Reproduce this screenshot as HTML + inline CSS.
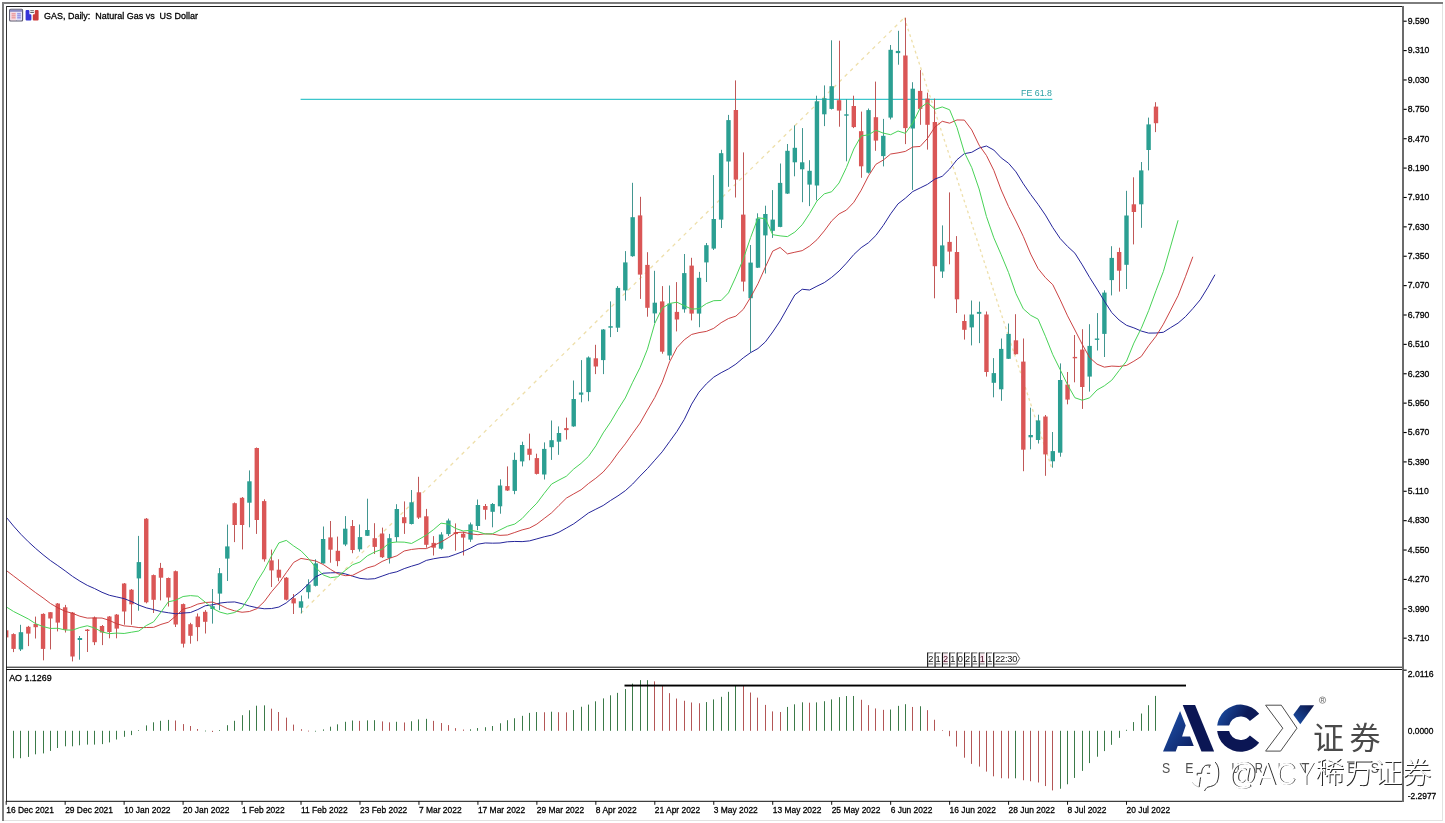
<!DOCTYPE html><html><head><meta charset="utf-8"><title>GAS Daily</title><style>html,body{margin:0;padding:0;background:#fff;width:1445px;height:823px;overflow:hidden}svg{display:block;will-change:transform}</style></head><body>
<svg width="1445" height="823" viewBox="0 0 1445 823" font-family="'Liberation Sans', Arial, sans-serif">
<rect width="1445" height="823" fill="#fff"/>
<defs><clipPath id="main"><rect x="6.5" y="6.5" width="1395.5" height="660"/></clipPath><clipPath id="aoc"><rect x="6.5" y="669.5" width="1395.5" height="131"/></clipPath><linearGradient id="gA" x1="0" y1="0" x2="1" y2="1"><stop offset="0" stop-color="#1f56b0"/><stop offset="1" stop-color="#0c1d5e"/></linearGradient><linearGradient id="gC" x1="0" y1="0" x2="1" y2="0.6"><stop offset="0" stop-color="#1d55ad"/><stop offset="0.6" stop-color="#0c1a58"/></linearGradient></defs>
<rect x="2" y="2" width="2" height="819" fill="#7d7d7d"/>
<rect x="2" y="2" width="1441" height="2" fill="#7d7d7d"/>
<rect x="1442" y="4" width="1" height="817" fill="#e2e2e2"/>
<rect x="4" y="820" width="1439" height="1" fill="#e2e2e2"/>
<g clip-path="url(#main)">
<line x1="300.6" y1="99.3" x2="1052.3" y2="99.3" stroke="#3cc6cc" stroke-width="1.3"/>
<line x1="300.6" y1="613.4" x2="904.3" y2="17.7" stroke="#eedfaa" stroke-width="1.3" stroke-dasharray="3.6,4.2"/>
<line x1="904.3" y1="17.7" x2="1051.6" y2="467.7" stroke="#eedfaa" stroke-width="1.3" stroke-dasharray="2.8,3"/>
<rect x="6" y="628" width="1" height="12" fill="#c05858"/>
<rect x="4" y="630.3" width="4.4" height="7.1" fill="#da5656"/>
<rect x="13" y="633.3" width="1" height="18.8" fill="#c05858"/>
<rect x="11.37" y="634.1" width="4.4" height="14.8" fill="#da5656"/>
<rect x="20" y="624.8" width="1" height="26.2" fill="#429690"/>
<rect x="18.74" y="632.2" width="4.4" height="17.2" fill="#2b9f92"/>
<rect x="28" y="625.9" width="1" height="20.2" fill="#c05858"/>
<rect x="26.11" y="626.8" width="4.4" height="6.8" fill="#da5656"/>
<rect x="35" y="616.6" width="1" height="21.9" fill="#c05858"/>
<rect x="33.48" y="624" width="4.4" height="3.2" fill="#da5656"/>
<rect x="43" y="613.3" width="1" height="47" fill="#c05858"/>
<rect x="40.85" y="613.9" width="4.4" height="35" fill="#da5656"/>
<rect x="50" y="612" width="1" height="37.4" fill="#c05858"/>
<rect x="48.22" y="612.2" width="4.4" height="6.3" fill="#da5656"/>
<rect x="57" y="603" width="1" height="28.4" fill="#c05858"/>
<rect x="55.59" y="603.5" width="4.4" height="19.1" fill="#da5656"/>
<rect x="65" y="604.9" width="1" height="27.6" fill="#c05858"/>
<rect x="62.96" y="607.3" width="4.4" height="22.4" fill="#da5656"/>
<rect x="72" y="612" width="1" height="49.4" fill="#c05858"/>
<rect x="70.33" y="612.6" width="4.4" height="43.9" fill="#da5656"/>
<rect x="79" y="636" width="1" height="23.7" fill="#429690"/>
<rect x="77.7" y="638" width="4.4" height="2" fill="#2b9f92"/>
<rect x="87" y="629" width="1" height="23" fill="#c05858"/>
<rect x="85.07" y="629.6" width="4.4" height="1.4" fill="#da5656"/>
<rect x="94" y="616.5" width="1" height="28.6" fill="#c05858"/>
<rect x="92.44" y="617.5" width="4.4" height="24.7" fill="#da5656"/>
<rect x="102" y="625" width="1" height="20.1" fill="#c05858"/>
<rect x="99.82" y="626" width="4.4" height="6.5" fill="#da5656"/>
<rect x="109" y="616" width="1" height="22.3" fill="#c05858"/>
<rect x="107.19" y="616.5" width="4.4" height="15.5" fill="#da5656"/>
<rect x="116" y="614" width="1" height="24.3" fill="#c05858"/>
<rect x="114.56" y="614.6" width="4.4" height="14" fill="#da5656"/>
<rect x="124" y="583" width="1" height="41.7" fill="#c05858"/>
<rect x="121.93" y="583.5" width="4.4" height="28" fill="#da5656"/>
<rect x="131" y="589" width="1" height="35.7" fill="#c05858"/>
<rect x="129.3" y="589.7" width="4.4" height="14.6" fill="#da5656"/>
<rect x="138" y="535.9" width="1" height="74.8" fill="#429690"/>
<rect x="136.67" y="562.1" width="4.4" height="16.3" fill="#2b9f92"/>
<rect x="146" y="518" width="1" height="85.3" fill="#c05858"/>
<rect x="144.04" y="518.7" width="4.4" height="83.6" fill="#da5656"/>
<rect x="153" y="574.5" width="1" height="38.5" fill="#c05858"/>
<rect x="151.41" y="575.1" width="4.4" height="24.7" fill="#da5656"/>
<rect x="160" y="562.9" width="1" height="37.5" fill="#c05858"/>
<rect x="158.78" y="567.9" width="4.4" height="9.8" fill="#da5656"/>
<rect x="168" y="577.5" width="1" height="29" fill="#c05858"/>
<rect x="166.15" y="578" width="4.4" height="19.5" fill="#da5656"/>
<rect x="175" y="570.5" width="1" height="56.5" fill="#c05858"/>
<rect x="173.52" y="571.2" width="4.4" height="53.3" fill="#da5656"/>
<rect x="183" y="603.5" width="1" height="44" fill="#c05858"/>
<rect x="180.89" y="604.1" width="4.4" height="39.6" fill="#da5656"/>
<rect x="190" y="622.8" width="1" height="20.9" fill="#c05858"/>
<rect x="188.26" y="624.2" width="4.4" height="11.6" fill="#da5656"/>
<rect x="197" y="613.5" width="1" height="27.7" fill="#c05858"/>
<rect x="195.63" y="616.5" width="4.4" height="10.6" fill="#da5656"/>
<rect x="205" y="610.1" width="1" height="23.4" fill="#c05858"/>
<rect x="203" y="611.8" width="4.4" height="10" fill="#da5656"/>
<rect x="212" y="589" width="1" height="34.6" fill="#429690"/>
<rect x="210.37" y="606.2" width="4.4" height="2.8" fill="#2b9f92"/>
<rect x="219" y="568" width="1" height="42.1" fill="#429690"/>
<rect x="217.74" y="573.2" width="4.4" height="20.4" fill="#2b9f92"/>
<rect x="227" y="524.6" width="1" height="56.4" fill="#429690"/>
<rect x="225.11" y="546.4" width="4.4" height="12.2" fill="#2b9f92"/>
<rect x="234" y="502.5" width="1" height="39.6" fill="#c05858"/>
<rect x="232.48" y="503.2" width="4.4" height="21.8" fill="#da5656"/>
<rect x="242" y="497" width="1" height="52.4" fill="#c05858"/>
<rect x="239.85" y="497.8" width="4.4" height="27.2" fill="#da5656"/>
<rect x="249" y="470.4" width="1" height="56.9" fill="#429690"/>
<rect x="247.22" y="481.3" width="4.4" height="21.4" fill="#2b9f92"/>
<rect x="256" y="447.5" width="1" height="86.4" fill="#c05858"/>
<rect x="254.59" y="448" width="4.4" height="72" fill="#da5656"/>
<rect x="264" y="499.3" width="1" height="62.3" fill="#c05858"/>
<rect x="261.96" y="501.1" width="4.4" height="58.2" fill="#da5656"/>
<rect x="271" y="549.6" width="1" height="37.4" fill="#c05858"/>
<rect x="269.33" y="560.4" width="4.4" height="10" fill="#da5656"/>
<rect x="278" y="559.3" width="1" height="21.9" fill="#c05858"/>
<rect x="276.7" y="569.7" width="4.4" height="8" fill="#da5656"/>
<rect x="286" y="577" width="1" height="23.4" fill="#c05858"/>
<rect x="284.08" y="577.7" width="4.4" height="22" fill="#da5656"/>
<rect x="293" y="594" width="1" height="20" fill="#c05858"/>
<rect x="291.45" y="598.3" width="4.4" height="5.1" fill="#da5656"/>
<rect x="301" y="595.5" width="1" height="17.9" fill="#429690"/>
<rect x="298.82" y="601.3" width="4.4" height="6.4" fill="#2b9f92"/>
<rect x="308" y="579.3" width="1" height="19.3" fill="#429690"/>
<rect x="306.19" y="584.4" width="4.4" height="7.8" fill="#2b9f92"/>
<rect x="315" y="559.3" width="1" height="27.2" fill="#429690"/>
<rect x="313.56" y="563.4" width="4.4" height="22.4" fill="#2b9f92"/>
<rect x="323" y="526.5" width="1" height="37.1" fill="#429690"/>
<rect x="320.93" y="539" width="4.4" height="24.4" fill="#2b9f92"/>
<rect x="330" y="521" width="1" height="41.7" fill="#c05858"/>
<rect x="328.3" y="537.4" width="4.4" height="12.3" fill="#da5656"/>
<rect x="337" y="536.6" width="1" height="29.6" fill="#c05858"/>
<rect x="335.67" y="550.8" width="4.4" height="10.3" fill="#da5656"/>
<rect x="345" y="516.1" width="1" height="30" fill="#429690"/>
<rect x="343.04" y="528.7" width="4.4" height="15.8" fill="#2b9f92"/>
<rect x="352" y="520" width="1" height="33.2" fill="#c05858"/>
<rect x="350.41" y="526" width="4.4" height="24" fill="#da5656"/>
<rect x="359" y="524.5" width="1" height="27.1" fill="#429690"/>
<rect x="357.78" y="537.1" width="4.4" height="12.2" fill="#2b9f92"/>
<rect x="367" y="498.7" width="1" height="37.3" fill="#429690"/>
<rect x="365.15" y="530" width="4.4" height="5.8" fill="#2b9f92"/>
<rect x="374" y="523.2" width="1" height="30.8" fill="#c05858"/>
<rect x="372.52" y="538.2" width="4.4" height="8.7" fill="#da5656"/>
<rect x="382" y="527.6" width="1" height="30.4" fill="#c05858"/>
<rect x="379.89" y="533.5" width="4.4" height="23.7" fill="#da5656"/>
<rect x="389" y="533.9" width="1" height="29.6" fill="#429690"/>
<rect x="387.26" y="538.2" width="4.4" height="19.8" fill="#2b9f92"/>
<rect x="396" y="504.2" width="1" height="37.9" fill="#429690"/>
<rect x="394.63" y="509" width="4.4" height="28.1" fill="#2b9f92"/>
<rect x="404" y="501.4" width="1" height="32.5" fill="#c05858"/>
<rect x="402" y="517.2" width="4.4" height="6" fill="#da5656"/>
<rect x="411" y="490" width="1" height="34.5" fill="#429690"/>
<rect x="409.37" y="502.3" width="4.4" height="21.7" fill="#2b9f92"/>
<rect x="418" y="476.8" width="1" height="42.2" fill="#c05858"/>
<rect x="416.74" y="492.3" width="4.4" height="25.3" fill="#da5656"/>
<rect x="426" y="508.9" width="1" height="38.8" fill="#c05858"/>
<rect x="424.11" y="516.3" width="4.4" height="28.5" fill="#da5656"/>
<rect x="433" y="536.1" width="1" height="19.4" fill="#c05858"/>
<rect x="431.48" y="542.9" width="4.4" height="4.8" fill="#da5656"/>
<rect x="441" y="532.2" width="1" height="17.5" fill="#429690"/>
<rect x="438.85" y="534.5" width="4.4" height="14.2" fill="#2b9f92"/>
<rect x="448" y="518.6" width="1" height="17.5" fill="#429690"/>
<rect x="446.22" y="520.5" width="4.4" height="13.6" fill="#2b9f92"/>
<rect x="455" y="523.4" width="1" height="27.3" fill="#c05858"/>
<rect x="453.59" y="532.2" width="4.4" height="1.9" fill="#da5656"/>
<rect x="463" y="531.8" width="1" height="23.7" fill="#c05858"/>
<rect x="460.96" y="533.7" width="4.4" height="3.9" fill="#da5656"/>
<rect x="470" y="522.5" width="1" height="19.4" fill="#429690"/>
<rect x="468.34" y="524.4" width="4.4" height="15.2" fill="#2b9f92"/>
<rect x="477" y="499.5" width="1" height="30.7" fill="#429690"/>
<rect x="475.71" y="505" width="4.4" height="21" fill="#2b9f92"/>
<rect x="485" y="504" width="1" height="15.6" fill="#c05858"/>
<rect x="483.08" y="506" width="4.4" height="3.8" fill="#da5656"/>
<rect x="492" y="503" width="1" height="24.3" fill="#429690"/>
<rect x="490.45" y="504" width="4.4" height="7.8" fill="#2b9f92"/>
<rect x="500" y="479.3" width="1" height="34.4" fill="#429690"/>
<rect x="497.82" y="485.5" width="4.4" height="20.8" fill="#2b9f92"/>
<rect x="507" y="466.4" width="1" height="24.6" fill="#c05858"/>
<rect x="505.19" y="486.1" width="4.4" height="4.4" fill="#da5656"/>
<rect x="514" y="452.6" width="1" height="41.6" fill="#429690"/>
<rect x="512.56" y="459.9" width="4.4" height="31" fill="#2b9f92"/>
<rect x="522" y="441.7" width="1" height="24.7" fill="#429690"/>
<rect x="519.93" y="445" width="4.4" height="16.4" fill="#2b9f92"/>
<rect x="529" y="433.6" width="1" height="26.7" fill="#c05858"/>
<rect x="527.3" y="448.7" width="4.4" height="6.1" fill="#da5656"/>
<rect x="536" y="453.7" width="1" height="20.8" fill="#c05858"/>
<rect x="534.67" y="458.1" width="4.4" height="15.8" fill="#da5656"/>
<rect x="544" y="442.4" width="1" height="37.1" fill="#429690"/>
<rect x="542.04" y="448.9" width="4.4" height="25.6" fill="#2b9f92"/>
<rect x="551" y="420.5" width="1" height="39.4" fill="#429690"/>
<rect x="549.41" y="440.2" width="4.4" height="7" fill="#2b9f92"/>
<rect x="558" y="426.4" width="1" height="28.4" fill="#429690"/>
<rect x="556.78" y="433" width="4.4" height="8.7" fill="#2b9f92"/>
<rect x="566" y="417.6" width="1" height="21.9" fill="#c05858"/>
<rect x="564.15" y="428.1" width="4.4" height="2" fill="#da5656"/>
<rect x="573" y="380.5" width="1" height="46.3" fill="#429690"/>
<rect x="571.52" y="399" width="4.4" height="27.4" fill="#2b9f92"/>
<rect x="581" y="360.1" width="1" height="42.2" fill="#429690"/>
<rect x="578.89" y="392.5" width="4.4" height="2.2" fill="#2b9f92"/>
<rect x="588" y="356.4" width="1" height="44.8" fill="#429690"/>
<rect x="586.26" y="357.5" width="4.4" height="34.6" fill="#2b9f92"/>
<rect x="595" y="344.8" width="1" height="29.3" fill="#c05858"/>
<rect x="593.63" y="358.3" width="4.4" height="8.2" fill="#da5656"/>
<rect x="603" y="329" width="1" height="45.1" fill="#429690"/>
<rect x="601" y="329.5" width="4.4" height="30.6" fill="#2b9f92"/>
<rect x="610" y="301.4" width="1" height="35.7" fill="#429690"/>
<rect x="608.37" y="326.2" width="4.4" height="1.5" fill="#2b9f92"/>
<rect x="617" y="286.1" width="1" height="45.9" fill="#429690"/>
<rect x="615.74" y="287.9" width="4.4" height="39.8" fill="#2b9f92"/>
<rect x="625" y="251.1" width="1" height="49.5" fill="#429690"/>
<rect x="623.11" y="262.4" width="4.4" height="28" fill="#2b9f92"/>
<rect x="632" y="182.8" width="1" height="74" fill="#429690"/>
<rect x="630.48" y="217.2" width="4.4" height="39" fill="#2b9f92"/>
<rect x="640" y="196.8" width="1" height="102.1" fill="#c05858"/>
<rect x="637.85" y="215.4" width="4.4" height="59.2" fill="#da5656"/>
<rect x="647" y="252.2" width="1" height="64.5" fill="#c05858"/>
<rect x="645.22" y="264.9" width="4.4" height="42.9" fill="#da5656"/>
<rect x="654" y="270.8" width="1" height="52.3" fill="#429690"/>
<rect x="652.6" y="302.7" width="4.4" height="10.7" fill="#2b9f92"/>
<rect x="662" y="286.1" width="1" height="67.6" fill="#c05858"/>
<rect x="659.97" y="301.4" width="4.4" height="50.3" fill="#da5656"/>
<rect x="669" y="285.5" width="1" height="74.6" fill="#429690"/>
<rect x="667.34" y="303.5" width="4.4" height="52" fill="#2b9f92"/>
<rect x="676" y="282.1" width="1" height="49.3" fill="#c05858"/>
<rect x="674.71" y="311.9" width="4.4" height="7.6" fill="#da5656"/>
<rect x="684" y="254" width="1" height="58.7" fill="#429690"/>
<rect x="682.08" y="273.1" width="4.4" height="36.2" fill="#2b9f92"/>
<rect x="691" y="257.8" width="1" height="62.6" fill="#c05858"/>
<rect x="689.45" y="265.6" width="4.4" height="48" fill="#da5656"/>
<rect x="699" y="271.9" width="1" height="55.3" fill="#429690"/>
<rect x="696.82" y="277.8" width="4.4" height="35.8" fill="#2b9f92"/>
<rect x="706" y="243" width="1" height="39" fill="#429690"/>
<rect x="704.19" y="245.2" width="4.4" height="17.2" fill="#2b9f92"/>
<rect x="713" y="175.1" width="1" height="74.9" fill="#429690"/>
<rect x="711.56" y="219" width="4.4" height="29.6" fill="#2b9f92"/>
<rect x="721" y="149.8" width="1" height="78.2" fill="#429690"/>
<rect x="718.93" y="153.2" width="4.4" height="66.4" fill="#2b9f92"/>
<rect x="728" y="114.9" width="1" height="71.9" fill="#429690"/>
<rect x="726.3" y="120.1" width="4.4" height="41.4" fill="#2b9f92"/>
<rect x="735" y="80.4" width="1" height="117.1" fill="#c05858"/>
<rect x="733.67" y="110" width="4.4" height="69.6" fill="#da5656"/>
<rect x="743" y="152.4" width="1" height="139" fill="#c05858"/>
<rect x="741.04" y="214.6" width="4.4" height="67" fill="#da5656"/>
<rect x="750" y="245" width="1" height="107.6" fill="#429690"/>
<rect x="748.41" y="262.6" width="4.4" height="35.6" fill="#2b9f92"/>
<rect x="757" y="213.3" width="1" height="54.7" fill="#429690"/>
<rect x="755.78" y="218.5" width="4.4" height="49.2" fill="#2b9f92"/>
<rect x="765" y="205.7" width="1" height="67.8" fill="#429690"/>
<rect x="763.15" y="214" width="4.4" height="21.4" fill="#2b9f92"/>
<rect x="772" y="190.1" width="1" height="47.8" fill="#429690"/>
<rect x="770.52" y="219.6" width="4.4" height="11.2" fill="#2b9f92"/>
<rect x="780" y="163.5" width="1" height="63.7" fill="#429690"/>
<rect x="777.89" y="182.9" width="4.4" height="44" fill="#2b9f92"/>
<rect x="787" y="144" width="1" height="50" fill="#429690"/>
<rect x="785.26" y="150.8" width="4.4" height="42.8" fill="#2b9f92"/>
<rect x="794" y="125.4" width="1" height="50.9" fill="#429690"/>
<rect x="792.63" y="147.8" width="4.4" height="14.5" fill="#2b9f92"/>
<rect x="802" y="128.1" width="1" height="74.1" fill="#429690"/>
<rect x="800" y="162.3" width="4.4" height="7" fill="#2b9f92"/>
<rect x="809" y="160.2" width="1" height="45.9" fill="#429690"/>
<rect x="807.37" y="170.8" width="4.4" height="13.8" fill="#2b9f92"/>
<rect x="816" y="95.7" width="1" height="104.6" fill="#429690"/>
<rect x="814.74" y="101.3" width="4.4" height="84.2" fill="#2b9f92"/>
<rect x="824" y="85.4" width="1" height="40.7" fill="#429690"/>
<rect x="822.11" y="98.2" width="4.4" height="16.1" fill="#2b9f92"/>
<rect x="831" y="40.3" width="1" height="69.2" fill="#429690"/>
<rect x="829.48" y="86.2" width="4.4" height="22.7" fill="#2b9f92"/>
<rect x="839" y="40.7" width="1" height="86" fill="#c05858"/>
<rect x="836.86" y="100.2" width="4.4" height="10.4" fill="#da5656"/>
<rect x="846" y="99.2" width="1" height="62.1" fill="#429690"/>
<rect x="844.23" y="114.3" width="4.4" height="1.4" fill="#2b9f92"/>
<rect x="853" y="95.7" width="1" height="32.4" fill="#c05858"/>
<rect x="851.6" y="106" width="4.4" height="21.1" fill="#da5656"/>
<rect x="861" y="111.6" width="1" height="66.2" fill="#c05858"/>
<rect x="858.97" y="131.2" width="4.4" height="35.1" fill="#da5656"/>
<rect x="868" y="108.5" width="1" height="65" fill="#429690"/>
<rect x="866.34" y="110.1" width="4.4" height="62.6" fill="#2b9f92"/>
<rect x="875" y="81.6" width="1" height="69.2" fill="#c05858"/>
<rect x="873.71" y="117.2" width="4.4" height="23.4" fill="#da5656"/>
<rect x="883" y="118.9" width="1" height="47.5" fill="#429690"/>
<rect x="881.08" y="135.8" width="4.4" height="20.3" fill="#2b9f92"/>
<rect x="890" y="45" width="1" height="74.4" fill="#429690"/>
<rect x="888.45" y="49.8" width="4.4" height="67.8" fill="#2b9f92"/>
<rect x="898" y="30.8" width="1" height="33.9" fill="#429690"/>
<rect x="895.82" y="50.9" width="4.4" height="2.2" fill="#2b9f92"/>
<rect x="905" y="17.7" width="1" height="126.4" fill="#c05858"/>
<rect x="903.19" y="55.5" width="4.4" height="72.6" fill="#da5656"/>
<rect x="912" y="82.2" width="1" height="107.7" fill="#429690"/>
<rect x="910.56" y="88.7" width="4.4" height="39.8" fill="#2b9f92"/>
<rect x="920" y="70.1" width="1" height="54.7" fill="#c05858"/>
<rect x="917.93" y="90.9" width="4.4" height="18" fill="#da5656"/>
<rect x="927" y="92.7" width="1" height="56.9" fill="#c05858"/>
<rect x="925.3" y="98.6" width="4.4" height="26.2" fill="#da5656"/>
<rect x="934" y="98.6" width="1" height="199.7" fill="#c05858"/>
<rect x="932.67" y="122" width="4.4" height="144.2" fill="#da5656"/>
<rect x="942" y="225.4" width="1" height="52.5" fill="#429690"/>
<rect x="940.04" y="245.4" width="4.4" height="26.1" fill="#2b9f92"/>
<rect x="949" y="192.4" width="1" height="71.9" fill="#c05858"/>
<rect x="947.41" y="241.9" width="4.4" height="9.7" fill="#da5656"/>
<rect x="956" y="236.1" width="1" height="76.9" fill="#c05858"/>
<rect x="954.78" y="252" width="4.4" height="47.3" fill="#da5656"/>
<rect x="964" y="314.5" width="1" height="25.1" fill="#c05858"/>
<rect x="962.15" y="321" width="4.4" height="8.8" fill="#da5656"/>
<rect x="971" y="300.5" width="1" height="44.9" fill="#429690"/>
<rect x="969.52" y="314.5" width="4.4" height="12.9" fill="#2b9f92"/>
<rect x="979" y="301.6" width="1" height="41.5" fill="#429690"/>
<rect x="976.89" y="311.9" width="4.4" height="1.9" fill="#2b9f92"/>
<rect x="986" y="311.5" width="1" height="65.1" fill="#c05858"/>
<rect x="984.26" y="314.5" width="4.4" height="57.5" fill="#da5656"/>
<rect x="993" y="358.1" width="1" height="39.2" fill="#429690"/>
<rect x="991.63" y="373.1" width="4.4" height="9.7" fill="#2b9f92"/>
<rect x="1001" y="338.5" width="1" height="62.3" fill="#429690"/>
<rect x="999" y="348.9" width="4.4" height="40.4" fill="#2b9f92"/>
<rect x="1008" y="323.5" width="1" height="35.5" fill="#429690"/>
<rect x="1006.37" y="333.9" width="4.4" height="24.9" fill="#2b9f92"/>
<rect x="1015" y="314.2" width="1" height="40.4" fill="#c05858"/>
<rect x="1013.74" y="340.3" width="4.4" height="13.9" fill="#da5656"/>
<rect x="1023" y="338.5" width="1" height="132.7" fill="#c05858"/>
<rect x="1021.12" y="361.6" width="4.4" height="88.1" fill="#da5656"/>
<rect x="1030" y="407.7" width="1" height="41.6" fill="#429690"/>
<rect x="1028.49" y="435" width="4.4" height="2.3" fill="#2b9f92"/>
<rect x="1038" y="414.7" width="1" height="28.8" fill="#429690"/>
<rect x="1035.86" y="420.4" width="4.4" height="19.6" fill="#2b9f92"/>
<rect x="1045" y="415" width="1" height="60.8" fill="#c05858"/>
<rect x="1043.23" y="416.5" width="4.4" height="37.9" fill="#da5656"/>
<rect x="1052" y="432" width="1" height="35.7" fill="#429690"/>
<rect x="1050.6" y="451.1" width="4.4" height="10.2" fill="#2b9f92"/>
<rect x="1060" y="363.4" width="1" height="93.3" fill="#429690"/>
<rect x="1057.97" y="380" width="4.4" height="72.7" fill="#2b9f92"/>
<rect x="1067" y="372" width="1" height="32.3" fill="#c05858"/>
<rect x="1065.34" y="384.6" width="4.4" height="15" fill="#da5656"/>
<rect x="1074" y="335" width="1" height="47.3" fill="#c05858"/>
<rect x="1072.71" y="356.9" width="4.4" height="1.4" fill="#da5656"/>
<rect x="1082" y="329.2" width="1" height="79.7" fill="#c05858"/>
<rect x="1080.08" y="349.6" width="4.4" height="37.4" fill="#da5656"/>
<rect x="1089" y="324.2" width="1" height="67.4" fill="#429690"/>
<rect x="1087.45" y="345.9" width="4.4" height="30.7" fill="#2b9f92"/>
<rect x="1097" y="313.1" width="1" height="37.4" fill="#429690"/>
<rect x="1094.82" y="338.5" width="4.4" height="1.4" fill="#2b9f92"/>
<rect x="1104" y="290.3" width="1" height="66.7" fill="#429690"/>
<rect x="1102.19" y="292.6" width="4.4" height="41.3" fill="#2b9f92"/>
<rect x="1111" y="246.2" width="1" height="49.2" fill="#429690"/>
<rect x="1109.56" y="257.9" width="4.4" height="22.2" fill="#2b9f92"/>
<rect x="1119" y="247.7" width="1" height="43.9" fill="#c05858"/>
<rect x="1116.93" y="252" width="4.4" height="18.7" fill="#da5656"/>
<rect x="1126" y="190.8" width="1" height="98.2" fill="#429690"/>
<rect x="1124.3" y="215.5" width="4.4" height="49.3" fill="#2b9f92"/>
<rect x="1133" y="177.3" width="1" height="67.1" fill="#c05858"/>
<rect x="1131.67" y="204.3" width="4.4" height="7.7" fill="#da5656"/>
<rect x="1141" y="162" width="1" height="65.8" fill="#429690"/>
<rect x="1139.04" y="170.4" width="4.4" height="33.9" fill="#2b9f92"/>
<rect x="1148" y="117.6" width="1" height="52.8" fill="#429690"/>
<rect x="1146.41" y="124.4" width="4.4" height="25.6" fill="#2b9f92"/>
<rect x="1155" y="102.2" width="1" height="29.9" fill="#c05858"/>
<rect x="1153.78" y="106.6" width="4.4" height="16.6" fill="#da5656"/>
<polyline points="6.2,517.1 13.57,526.12 20.94,534.34 28.31,541.71 35.68,548.46 43.05,554.71 50.42,560.52 57.79,565.6 65.16,570.86 72.53,576.39 79.9,581.12 87.27,585.34 94.64,588.59 102.02,592.3 109.39,595.25 116.76,596.94 124.13,598.61 131.5,601.54 138.87,605.1 146.24,607.83 153.61,609.59 160.98,611.55 168.35,612.75 175.72,613.78 183.09,613.02 190.46,612.54 197.83,609.53 205.2,605.77 212.57,604.84 219.94,603.06 227.31,602.21 234.68,601.94 242.05,603.75 249.42,606.02 256.79,607.66 264.16,608.75 271.53,608.56 278.9,607.06 286.28,602.89 293.65,596.69 301.02,591.04 308.39,583.94 315.76,576.77 323.13,573.21 330.5,572.83 337.87,572.63 345.24,573.87 352.61,576.19 359.98,578.36 367.35,579.17 374.72,578.69 382.09,576.1 389.46,573.47 396.83,571.77 404.2,568.64 411.57,566.18 418.94,564.01 426.31,560.42 433.68,558.75 441.05,557.52 448.42,556.84 455.79,554.25 463.16,551.43 470.54,548.04 477.91,544.18 485.28,542.96 492.65,543.18 500.02,543 507.39,541.8 514.76,541.44 522.13,541.61 529.5,540.88 536.87,538.88 544.24,536.8 551.61,535.13 558.98,532.16 566.35,528.05 573.72,523.84 581.09,518.48 588.46,512.97 595.83,509.21 603.2,505.5 610.57,500.48 617.94,495.87 625.31,490.69 632.68,484 640.05,476.09 647.42,468.61 654.8,460.21 662.17,451.85 669.54,441.65 676.91,431.45 684.28,419.48 691.65,404.12 699.02,392.1 706.39,383.82 713.76,377.14 721.13,372.73 728.5,368.89 735.87,364.11 743.24,357.9 750.61,352.61 757.98,348.53 765.35,341.91 772.72,331.96 780.09,320.95 787.46,307.87 794.83,294.88 802.2,289.26 809.57,290 816.94,286.2 824.31,282.62 831.68,277.34 839.06,271.03 846.43,263.18 853.8,254.54 861.17,247.66 868.54,242.7 875.91,235.42 883.28,225.44 890.65,213.86 898.02,203.85 905.39,198.19 912.76,191.55 920.13,187.95 927.5,184.34 934.87,179.09 942.24,176.29 949.61,169.05 956.98,159.72 964.35,153.66 971.72,152.3 979.09,148.08 986.46,146.01 993.83,150.05 1001.2,157.86 1008.57,163.28 1015.94,171.84 1023.32,183.78 1030.69,194.49 1038.06,204.32 1045.43,215.07 1052.8,227.58 1060.17,238.51 1067.54,246.41 1074.91,253.18 1082.28,264.85 1089.65,277.44 1097.02,289.1 1104.39,301.13 1111.76,312.57 1119.13,320.06 1126.5,325.3 1133.87,327.87 1141.24,331.04 1148.61,333.1 1155.98,333 1163.35,332.28 1170.72,327.55 1178.09,323.1 1185.46,316.7 1192.83,308.56 1200.2,299.81 1207.58,287.83 1214.95,274.7" fill="none" stroke="#25259a" stroke-width="1" stroke-linejoin="round"/>
<polyline points="6.2,570.42 13.57,576.01 20.94,581.61 28.31,587.17 35.68,592.7 43.05,597.86 50.42,603.47 57.79,607.77 65.16,611.3 72.53,613.33 79.9,616.26 87.27,618.07 94.64,617.96 102.02,618.05 109.39,620.38 116.76,623.82 124.13,625.9 131.5,626.51 138.87,627.58 146.24,627.53 153.61,627.36 160.98,624.42 168.35,622.22 175.72,616.11 183.09,609.17 190.46,607.25 197.83,604.05 205.2,602.54 212.57,602.07 219.94,605 227.31,608.53 234.68,610.88 242.05,612.25 249.42,611.5 256.79,608.7 264.16,601.71 271.53,591.78 278.9,583.21 286.28,572.66 293.65,562.42 301.02,558.42 308.39,559.66 315.76,560.98 323.13,564.45 330.5,569.39 337.87,573.77 345.24,575.67 352.61,575.32 359.98,571.54 367.35,567.83 374.72,565.77 382.09,561.44 389.46,558.34 396.83,555.8 404.2,550.99 411.57,549.44 418.94,548.61 426.31,548.62 433.68,545.44 441.05,541.97 448.42,537.63 455.79,532.66 463.16,532.12 470.54,533.83 477.91,534.72 485.28,533.8 492.65,534.2 500.02,535.38 507.39,534.99 514.76,532.47 522.13,529.89 529.5,528.04 536.87,524.1 544.24,518.43 551.61,512.8 558.98,505.45 566.35,498.14 573.72,493.89 581.09,489.77 588.46,483.57 595.83,478.2 603.2,471.99 610.57,463.45 617.94,453.17 625.31,443.87 632.68,433.32 640.05,423.1 647.42,410.12 654.8,397.48 662.17,382.28 669.54,361.97 676.91,347.71 684.28,339.8 691.65,334.44 699.02,332.62 706.39,331.4 713.76,328.32 721.13,322.69 728.5,318.5 735.87,316.13 743.24,309.42 750.61,297.31 757.98,283.76 765.35,267.15 772.72,251.12 780.09,247.47 787.46,253.89 794.83,252.23 802.2,250.65 809.57,246.07 816.94,239.73 824.31,230.89 831.68,220.89 839.06,213.92 846.43,210.07 853.8,202.31 861.17,190.24 868.54,175.82 875.91,164.31 883.28,160.05 890.65,154.03 898.02,152.87 905.39,151.38 912.76,146.99 920.13,146.44 927.5,138.41 934.87,127.08 942.24,121.31 949.61,123.15 956.98,119.94 964.35,120.09 971.72,129.88 979.09,145.11 986.46,155.51 993.83,170.39 1001.2,189.97 1008.57,206.6 1015.94,221.06 1023.32,236.44 1030.69,254.1 1038.06,268.54 1045.43,277.63 1052.8,284.73 1060.17,299.74 1067.54,315.84 1074.91,329.99 1082.28,344.42 1089.65,357.6 1097.02,364.15 1104.39,367.15 1111.76,366.09 1119.13,366.46 1126.5,365.39 1133.87,361.19 1141.24,356.5 1148.61,345.79 1155.98,336.27 1163.35,324.22 1170.72,310.05 1178.09,295.66 1185.46,276.7 1192.83,256.76" fill="none" stroke="#c83a3a" stroke-width="0.95" stroke-linejoin="round"/>
<polyline points="6.2,606.83 13.57,611.49 20.94,615.2 28.31,618.96 35.68,623.71 43.05,626.55 50.42,628.44 57.79,628.26 65.16,629.97 72.53,630.11 79.9,627.53 87.27,625.77 94.64,627.95 102.02,631.93 109.39,633.65 116.76,633.08 124.13,633.47 131.5,632.21 138.87,631 146.24,625.57 153.61,621.82 160.98,612.12 168.35,601.82 175.72,600.21 183.09,596.5 190.46,595.6 197.83,596.23 205.2,602.08 212.57,608.32 219.94,612.12 227.31,614.06 234.68,612.51 242.05,607.82 249.42,596.81 256.79,581.91 264.16,570.17 271.53,555.9 278.9,542.86 286.28,540.38 293.65,545.96 301.02,550.82 308.39,558.4 315.76,567.52 323.13,574.9 330.5,577.71 337.87,576.75 345.24,570.41 352.61,564.7 359.98,562.04 367.35,555.85 374.72,552 382.09,549.21 389.46,542.84 396.83,541.99 404.2,542.15 411.57,543.46 418.94,539.4 426.31,535.05 433.68,529.49 441.05,523.17 448.42,524.2 455.79,528.52 463.16,531 470.54,530.27 477.91,531.63 485.28,534.03 492.65,533.67 500.02,529.9 507.39,526.28 514.76,524.06 522.13,518.54 529.5,510.58 536.87,503.14 544.24,493.32 551.61,484.05 558.98,480.06 566.35,476.24 573.72,469.03 581.09,463.34 588.46,456.38 595.83,445.84 603.2,432.91 610.57,422.09 617.94,409.56 625.31,397.96 632.68,382.22 640.05,367.58 647.42,349.24 654.8,323.35 662.17,308.25 669.54,303.49 676.91,302.18 684.28,305.73 691.65,309.14 699.02,308.66 706.39,303.6 713.76,300.7 721.13,300.47 728.5,292.88 735.87,276.81 743.24,259.23 750.61,237.55 757.98,217.83 765.35,218.65 772.72,234.68 780.09,235.87 787.46,236.62 794.83,232.09 802.2,224.74 809.57,213.6 816.94,201.05 824.31,193.87 831.68,191.72 839.06,182.98 846.43,167.53 853.8,149.01 861.17,135.95 868.54,134.81 875.91,130.23 883.28,133.12 890.65,134.7 898.02,131 905.39,133.33 912.76,123.1 920.13,108.03 927.5,102.61 934.87,109.29 942.24,106.93 949.61,109.77 956.98,127.51 964.35,152.33 971.72,167.54 979.09,188.94 986.46,216.56 993.83,237.84 1001.2,254.74 1008.57,272.6 1015.94,293.62 1023.32,308.83 1030.69,315.31 1038.06,319.13 1045.43,336.27 1052.8,354.72 1060.17,369.6 1067.54,384.76 1074.91,397.78 1082.28,400.23 1089.65,397.81 1097.02,389.98 1104.39,385.79 1111.76,380.22 1119.13,370.53 1126.5,361.16 1133.87,343.08 1141.24,328.4 1148.61,310.7 1155.98,290.73 1163.35,271.56 1170.72,246.05 1178.09,220.27" fill="none" stroke="#48d257" stroke-width="1" stroke-linejoin="round"/>
</g>
<text x="1021.00" y="96.00" font-size="9.8" textLength="30.89" lengthAdjust="spacingAndGlyphs" fill="#2a9fa3" stroke="#2a9fa3" stroke-width="0"  xml:space="preserve">FE 61.8</text>
<g clip-path="url(#aoc)">
<rect x="6" y="730.8" width="1" height="28.7" fill="#3b7a49"/>
<rect x="13" y="730.8" width="1" height="27.4" fill="#3b7a49"/>
<rect x="20" y="730.8" width="1" height="27.4" fill="#3b7a49"/>
<rect x="28" y="730.8" width="1" height="26.1" fill="#3b7a49"/>
<rect x="35" y="730.8" width="1" height="23.5" fill="#3b7a49"/>
<rect x="43" y="730.8" width="1" height="22.6" fill="#3b7a49"/>
<rect x="50" y="730.8" width="1" height="20.1" fill="#3b7a49"/>
<rect x="57" y="730.8" width="1" height="17.2" fill="#3b7a49"/>
<rect x="65" y="730.8" width="1" height="15.5" fill="#3b7a49"/>
<rect x="72" y="730.8" width="1" height="15.5" fill="#3b7a49"/>
<rect x="79" y="730.8" width="1" height="14.5" fill="#3b7a49"/>
<rect x="87" y="730.8" width="1" height="13.8" fill="#3b7a49"/>
<rect x="94" y="730.8" width="1" height="13.8" fill="#3b7a49"/>
<rect x="102" y="730.8" width="1" height="13.3" fill="#3b7a49"/>
<rect x="109" y="730.8" width="1" height="11.6" fill="#3b7a49"/>
<rect x="116" y="730.8" width="1" height="8.7" fill="#3b7a49"/>
<rect x="124" y="730.8" width="1" height="6" fill="#3b7a49"/>
<rect x="131" y="730.8" width="1" height="4.3" fill="#3b7a49"/>
<rect x="138" y="730.1" width="1" height="0.7" fill="#3b7a49"/>
<rect x="146" y="725.4" width="1" height="5.4" fill="#3b7a49"/>
<rect x="153" y="722.3" width="1" height="8.5" fill="#3b7a49"/>
<rect x="160" y="720.8" width="1" height="10" fill="#3b7a49"/>
<rect x="168" y="719.9" width="1" height="10.9" fill="#3b7a49"/>
<rect x="175" y="720.5" width="1" height="10.3" fill="#b35656"/>
<rect x="183" y="724.1" width="1" height="6.7" fill="#b35656"/>
<rect x="190" y="726" width="1" height="4.8" fill="#b35656"/>
<rect x="197" y="729" width="1" height="1.8" fill="#b35656"/>
<rect x="205" y="730.6" width="1" height="0.8" fill="#3b7a49"/>
<rect x="212" y="730.8" width="1" height="1.2" fill="#b35656"/>
<rect x="219" y="730" width="1" height="0.8" fill="#3b7a49"/>
<rect x="227" y="725.2" width="1" height="5.6" fill="#3b7a49"/>
<rect x="234" y="720.8" width="1" height="10" fill="#3b7a49"/>
<rect x="242" y="715.2" width="1" height="15.6" fill="#3b7a49"/>
<rect x="249" y="710.25" width="1" height="20.55" fill="#3b7a49"/>
<rect x="256" y="705.7" width="1" height="25.1" fill="#3b7a49"/>
<rect x="264" y="705.35" width="1" height="25.45" fill="#3b7a49"/>
<rect x="271" y="708.67" width="1" height="22.13" fill="#b35656"/>
<rect x="278" y="712.01" width="1" height="18.79" fill="#b35656"/>
<rect x="286" y="717.64" width="1" height="13.16" fill="#b35656"/>
<rect x="293" y="724.6" width="1" height="6.2" fill="#b35656"/>
<rect x="301" y="729.19" width="1" height="1.61" fill="#b35656"/>
<rect x="308" y="730.66" width="1" height="0.8" fill="#b35656"/>
<rect x="315" y="730.8" width="1" height="0.8" fill="#3b7a49"/>
<rect x="323" y="729.43" width="1" height="1.37" fill="#3b7a49"/>
<rect x="330" y="726.69" width="1" height="4.11" fill="#3b7a49"/>
<rect x="337" y="724.33" width="1" height="6.47" fill="#3b7a49"/>
<rect x="345" y="721.79" width="1" height="9.01" fill="#3b7a49"/>
<rect x="352" y="720.5" width="1" height="10.3" fill="#3b7a49"/>
<rect x="359" y="720.86" width="1" height="9.94" fill="#b35656"/>
<rect x="367" y="720.36" width="1" height="10.44" fill="#3b7a49"/>
<rect x="374" y="720.17" width="1" height="10.63" fill="#3b7a49"/>
<rect x="382" y="721.41" width="1" height="9.39" fill="#b35656"/>
<rect x="389" y="722.34" width="1" height="8.46" fill="#b35656"/>
<rect x="396" y="721.79" width="1" height="9.01" fill="#3b7a49"/>
<rect x="404" y="722.46" width="1" height="8.34" fill="#b35656"/>
<rect x="411" y="721.26" width="1" height="9.54" fill="#3b7a49"/>
<rect x="418" y="719.43" width="1" height="11.37" fill="#3b7a49"/>
<rect x="426" y="718.84" width="1" height="11.96" fill="#3b7a49"/>
<rect x="433" y="720.86" width="1" height="9.94" fill="#b35656"/>
<rect x="441" y="723.04" width="1" height="7.76" fill="#b35656"/>
<rect x="448" y="725.09" width="1" height="5.71" fill="#b35656"/>
<rect x="455" y="728.13" width="1" height="2.67" fill="#b35656"/>
<rect x="463" y="729.58" width="1" height="1.22" fill="#b35656"/>
<rect x="470" y="729.27" width="1" height="1.53" fill="#3b7a49"/>
<rect x="477" y="728.06" width="1" height="2.74" fill="#3b7a49"/>
<rect x="485" y="727.24" width="1" height="3.56" fill="#3b7a49"/>
<rect x="492" y="726.01" width="1" height="4.79" fill="#3b7a49"/>
<rect x="500" y="723.26" width="1" height="7.54" fill="#3b7a49"/>
<rect x="507" y="720.21" width="1" height="10.59" fill="#3b7a49"/>
<rect x="514" y="718.26" width="1" height="12.54" fill="#3b7a49"/>
<rect x="522" y="715.84" width="1" height="14.96" fill="#3b7a49"/>
<rect x="529" y="712.89" width="1" height="17.91" fill="#3b7a49"/>
<rect x="536" y="712.06" width="1" height="18.74" fill="#3b7a49"/>
<rect x="544" y="712.26" width="1" height="18.54" fill="#b35656"/>
<rect x="551" y="711.72" width="1" height="19.08" fill="#3b7a49"/>
<rect x="558" y="712.22" width="1" height="18.58" fill="#b35656"/>
<rect x="566" y="712.38" width="1" height="18.42" fill="#b35656"/>
<rect x="573" y="710.05" width="1" height="20.75" fill="#3b7a49"/>
<rect x="581" y="706.74" width="1" height="24.06" fill="#3b7a49"/>
<rect x="588" y="704.62" width="1" height="26.18" fill="#3b7a49"/>
<rect x="595" y="701.32" width="1" height="29.48" fill="#3b7a49"/>
<rect x="603" y="698.39" width="1" height="32.41" fill="#3b7a49"/>
<rect x="610" y="695.31" width="1" height="35.49" fill="#3b7a49"/>
<rect x="617" y="692.86" width="1" height="37.94" fill="#3b7a49"/>
<rect x="625" y="689.07" width="1" height="41.73" fill="#3b7a49"/>
<rect x="632" y="683.64" width="1" height="47.16" fill="#3b7a49"/>
<rect x="640" y="680.13" width="1" height="50.67" fill="#3b7a49"/>
<rect x="647" y="680.15" width="1" height="50.65" fill="#3b7a49"/>
<rect x="654" y="681.35" width="1" height="49.45" fill="#b35656"/>
<rect x="662" y="685.57" width="1" height="45.23" fill="#b35656"/>
<rect x="669" y="693.16" width="1" height="37.64" fill="#b35656"/>
<rect x="676" y="698.55" width="1" height="32.25" fill="#b35656"/>
<rect x="684" y="700.76" width="1" height="30.04" fill="#b35656"/>
<rect x="691" y="702.48" width="1" height="28.32" fill="#b35656"/>
<rect x="699" y="703.26" width="1" height="27.54" fill="#b35656"/>
<rect x="706" y="702.08" width="1" height="28.72" fill="#3b7a49"/>
<rect x="713" y="699.4" width="1" height="31.4" fill="#3b7a49"/>
<rect x="721" y="696.81" width="1" height="33.99" fill="#3b7a49"/>
<rect x="728" y="691.82" width="1" height="38.98" fill="#3b7a49"/>
<rect x="735" y="685.58" width="1" height="45.22" fill="#3b7a49"/>
<rect x="743" y="685.73" width="1" height="45.07" fill="#b35656"/>
<rect x="750" y="692.53" width="1" height="38.27" fill="#b35656"/>
<rect x="757" y="697.64" width="1" height="33.16" fill="#b35656"/>
<rect x="765" y="704.9" width="1" height="25.9" fill="#b35656"/>
<rect x="772" y="711.4" width="1" height="19.4" fill="#b35656"/>
<rect x="780" y="712.02" width="1" height="18.78" fill="#b35656"/>
<rect x="787" y="706.93" width="1" height="23.87" fill="#3b7a49"/>
<rect x="794" y="704.32" width="1" height="26.48" fill="#3b7a49"/>
<rect x="802" y="702.32" width="1" height="28.48" fill="#3b7a49"/>
<rect x="809" y="702.73" width="1" height="28.07" fill="#b35656"/>
<rect x="816" y="702.37" width="1" height="28.43" fill="#3b7a49"/>
<rect x="824" y="701.23" width="1" height="29.57" fill="#3b7a49"/>
<rect x="831" y="699.4" width="1" height="31.4" fill="#3b7a49"/>
<rect x="839" y="697.16" width="1" height="33.64" fill="#3b7a49"/>
<rect x="846" y="696.03" width="1" height="34.77" fill="#3b7a49"/>
<rect x="853" y="695.98" width="1" height="34.82" fill="#3b7a49"/>
<rect x="861" y="699.79" width="1" height="31.01" fill="#b35656"/>
<rect x="868" y="705.14" width="1" height="25.66" fill="#b35656"/>
<rect x="875" y="708.44" width="1" height="22.36" fill="#b35656"/>
<rect x="883" y="709.84" width="1" height="20.96" fill="#b35656"/>
<rect x="890" y="709.53" width="1" height="21.27" fill="#3b7a49"/>
<rect x="898" y="705.86" width="1" height="24.94" fill="#3b7a49"/>
<rect x="905" y="704.19" width="1" height="26.61" fill="#3b7a49"/>
<rect x="912" y="706.96" width="1" height="23.84" fill="#b35656"/>
<rect x="920" y="706.25" width="1" height="24.55" fill="#3b7a49"/>
<rect x="927" y="710.15" width="1" height="20.65" fill="#b35656"/>
<rect x="934" y="719.77" width="1" height="11.03" fill="#b35656"/>
<rect x="942" y="730.16" width="1" height="0.64" fill="#b35656"/>
<rect x="949" y="730.8" width="1" height="5.42" fill="#b35656"/>
<rect x="956" y="730.8" width="1" height="15.75" fill="#b35656"/>
<rect x="964" y="730.8" width="1" height="26.89" fill="#b35656"/>
<rect x="971" y="730.8" width="1" height="33.07" fill="#b35656"/>
<rect x="979" y="730.8" width="1" height="35.75" fill="#b35656"/>
<rect x="986" y="730.8" width="1" height="40.79" fill="#b35656"/>
<rect x="993" y="730.8" width="1" height="45.52" fill="#b35656"/>
<rect x="1001" y="730.8" width="1" height="47.42" fill="#b35656"/>
<rect x="1008" y="730.8" width="1" height="47.63" fill="#b35656"/>
<rect x="1015" y="730.8" width="1" height="47.51" fill="#3b7a49"/>
<rect x="1023" y="730.8" width="1" height="49.44" fill="#b35656"/>
<rect x="1030" y="730.8" width="1" height="50.42" fill="#b35656"/>
<rect x="1038" y="730.8" width="1" height="51.67" fill="#b35656"/>
<rect x="1045" y="730.8" width="1" height="55.25" fill="#b35656"/>
<rect x="1052" y="730.8" width="1" height="59.59" fill="#b35656"/>
<rect x="1060" y="730.8" width="1" height="57.93" fill="#3b7a49"/>
<rect x="1067" y="730.8" width="1" height="53.47" fill="#3b7a49"/>
<rect x="1074" y="730.8" width="1" height="47.12" fill="#3b7a49"/>
<rect x="1082" y="730.8" width="1" height="40.07" fill="#3b7a49"/>
<rect x="1089" y="730.8" width="1" height="32.28" fill="#3b7a49"/>
<rect x="1097" y="730.8" width="1" height="25.92" fill="#3b7a49"/>
<rect x="1104" y="730.8" width="1" height="20.28" fill="#3b7a49"/>
<rect x="1111" y="730.8" width="1" height="14.01" fill="#3b7a49"/>
<rect x="1119" y="730.8" width="1" height="7.04" fill="#3b7a49"/>
<rect x="1126" y="729.81" width="1" height="0.99" fill="#3b7a49"/>
<rect x="1133" y="722.09" width="1" height="8.71" fill="#3b7a49"/>
<rect x="1141" y="713.52" width="1" height="17.28" fill="#3b7a49"/>
<rect x="1148" y="705.21" width="1" height="25.59" fill="#3b7a49"/>
<rect x="1155" y="695.91" width="1" height="34.89" fill="#3b7a49"/>
</g>
<rect x="624.5" y="684.6" width="561.5" height="1.9" fill="#000"/>
<text x="9.20" y="681.30" font-size="9.8" textLength="42.4" lengthAdjust="spacingAndGlyphs" fill="#000" stroke="#000" stroke-width="0.3"  xml:space="preserve">AO 1.1269</text>
<rect x="6" y="6" width="1397" height="1" fill="#1a1a1a"/>
<rect x="6" y="6" width="1" height="795" fill="#333"/>
<rect x="6" y="666.7" width="1397" height="1" fill="#111"/>
<rect x="6" y="669" width="1397" height="1" fill="#111"/>
<rect x="6" y="800.8" width="1397" height="1" fill="#111"/>
<rect x="1402" y="6" width="2" height="796" fill="#6b6b6b"/>
<rect x="1403.5" y="20.65" width="3.2" height="1.1" fill="#000"/>
<text x="1407.70" y="24.00" font-size="9.8" textLength="21.7" lengthAdjust="spacingAndGlyphs" fill="#000" stroke="#000" stroke-width="0.3"  xml:space="preserve">9.590</text>
<rect x="1403.5" y="50.03" width="3.2" height="1.1" fill="#000"/>
<text x="1407.70" y="53.38" font-size="9.8" textLength="21.7" lengthAdjust="spacingAndGlyphs" fill="#000" stroke="#000" stroke-width="0.3"  xml:space="preserve">9.310</text>
<rect x="1403.5" y="79.41" width="3.2" height="1.1" fill="#000"/>
<text x="1407.70" y="82.76" font-size="9.8" textLength="21.7" lengthAdjust="spacingAndGlyphs" fill="#000" stroke="#000" stroke-width="0.3"  xml:space="preserve">9.030</text>
<rect x="1403.5" y="108.79" width="3.2" height="1.1" fill="#000"/>
<text x="1407.70" y="112.14" font-size="9.8" textLength="21.7" lengthAdjust="spacingAndGlyphs" fill="#000" stroke="#000" stroke-width="0.3"  xml:space="preserve">8.750</text>
<rect x="1403.5" y="138.17" width="3.2" height="1.1" fill="#000"/>
<text x="1407.70" y="141.52" font-size="9.8" textLength="21.7" lengthAdjust="spacingAndGlyphs" fill="#000" stroke="#000" stroke-width="0.3"  xml:space="preserve">8.470</text>
<rect x="1403.5" y="167.55" width="3.2" height="1.1" fill="#000"/>
<text x="1407.70" y="170.90" font-size="9.8" textLength="21.7" lengthAdjust="spacingAndGlyphs" fill="#000" stroke="#000" stroke-width="0.3"  xml:space="preserve">8.190</text>
<rect x="1403.5" y="196.93" width="3.2" height="1.1" fill="#000"/>
<text x="1407.70" y="200.28" font-size="9.8" textLength="21.7" lengthAdjust="spacingAndGlyphs" fill="#000" stroke="#000" stroke-width="0.3"  xml:space="preserve">7.910</text>
<rect x="1403.5" y="226.31" width="3.2" height="1.1" fill="#000"/>
<text x="1407.70" y="229.66" font-size="9.8" textLength="21.7" lengthAdjust="spacingAndGlyphs" fill="#000" stroke="#000" stroke-width="0.3"  xml:space="preserve">7.630</text>
<rect x="1403.5" y="255.69" width="3.2" height="1.1" fill="#000"/>
<text x="1407.70" y="259.04" font-size="9.8" textLength="21.7" lengthAdjust="spacingAndGlyphs" fill="#000" stroke="#000" stroke-width="0.3"  xml:space="preserve">7.350</text>
<rect x="1403.5" y="285.07" width="3.2" height="1.1" fill="#000"/>
<text x="1407.70" y="288.42" font-size="9.8" textLength="21.7" lengthAdjust="spacingAndGlyphs" fill="#000" stroke="#000" stroke-width="0.3"  xml:space="preserve">7.070</text>
<rect x="1403.5" y="314.45" width="3.2" height="1.1" fill="#000"/>
<text x="1407.70" y="317.80" font-size="9.8" textLength="21.7" lengthAdjust="spacingAndGlyphs" fill="#000" stroke="#000" stroke-width="0.3"  xml:space="preserve">6.790</text>
<rect x="1403.5" y="343.83" width="3.2" height="1.1" fill="#000"/>
<text x="1407.70" y="347.18" font-size="9.8" textLength="21.7" lengthAdjust="spacingAndGlyphs" fill="#000" stroke="#000" stroke-width="0.3"  xml:space="preserve">6.510</text>
<rect x="1403.5" y="373.21" width="3.2" height="1.1" fill="#000"/>
<text x="1407.70" y="376.56" font-size="9.8" textLength="21.7" lengthAdjust="spacingAndGlyphs" fill="#000" stroke="#000" stroke-width="0.3"  xml:space="preserve">6.230</text>
<rect x="1403.5" y="402.59" width="3.2" height="1.1" fill="#000"/>
<text x="1407.70" y="405.94" font-size="9.8" textLength="21.7" lengthAdjust="spacingAndGlyphs" fill="#000" stroke="#000" stroke-width="0.3"  xml:space="preserve">5.950</text>
<rect x="1403.5" y="431.97" width="3.2" height="1.1" fill="#000"/>
<text x="1407.70" y="435.32" font-size="9.8" textLength="21.7" lengthAdjust="spacingAndGlyphs" fill="#000" stroke="#000" stroke-width="0.3"  xml:space="preserve">5.670</text>
<rect x="1403.5" y="461.35" width="3.2" height="1.1" fill="#000"/>
<text x="1407.70" y="464.70" font-size="9.8" textLength="21.7" lengthAdjust="spacingAndGlyphs" fill="#000" stroke="#000" stroke-width="0.3"  xml:space="preserve">5.390</text>
<rect x="1403.5" y="490.73" width="3.2" height="1.1" fill="#000"/>
<text x="1407.70" y="494.08" font-size="9.8" textLength="21.06" lengthAdjust="spacingAndGlyphs" fill="#000" stroke="#000" stroke-width="0.3"  xml:space="preserve">5.110</text>
<rect x="1403.5" y="520.11" width="3.2" height="1.1" fill="#000"/>
<text x="1407.70" y="523.46" font-size="9.8" textLength="21.7" lengthAdjust="spacingAndGlyphs" fill="#000" stroke="#000" stroke-width="0.3"  xml:space="preserve">4.830</text>
<rect x="1403.5" y="549.49" width="3.2" height="1.1" fill="#000"/>
<text x="1407.70" y="552.84" font-size="9.8" textLength="21.7" lengthAdjust="spacingAndGlyphs" fill="#000" stroke="#000" stroke-width="0.3"  xml:space="preserve">4.550</text>
<rect x="1403.5" y="578.87" width="3.2" height="1.1" fill="#000"/>
<text x="1407.70" y="582.22" font-size="9.8" textLength="21.7" lengthAdjust="spacingAndGlyphs" fill="#000" stroke="#000" stroke-width="0.3"  xml:space="preserve">4.270</text>
<rect x="1403.5" y="608.25" width="3.2" height="1.1" fill="#000"/>
<text x="1407.70" y="611.60" font-size="9.8" textLength="21.7" lengthAdjust="spacingAndGlyphs" fill="#000" stroke="#000" stroke-width="0.3"  xml:space="preserve">3.990</text>
<rect x="1403.5" y="637.63" width="3.2" height="1.1" fill="#000"/>
<text x="1407.70" y="640.98" font-size="9.8" textLength="21.7" lengthAdjust="spacingAndGlyphs" fill="#000" stroke="#000" stroke-width="0.3"  xml:space="preserve">3.710</text>
<rect x="1403.5" y="669.6" width="3.2" height="1.1" fill="#000"/>
<text x="1407.70" y="677.30" font-size="9.8" textLength="25.88" lengthAdjust="spacingAndGlyphs" fill="#000" stroke="#000" stroke-width="0.3"  xml:space="preserve">2.0116</text>
<text x="1407.70" y="733.80" font-size="9.8" textLength="25.78" lengthAdjust="spacingAndGlyphs" fill="#000" stroke="#000" stroke-width="0.3"  xml:space="preserve">0.0000</text>
<text x="1407.70" y="799.00" font-size="9.8" textLength="28.58" lengthAdjust="spacingAndGlyphs" fill="#000" stroke="#000" stroke-width="0.3"  xml:space="preserve">-2.2977</text>
<rect x="5.7" y="801" width="1" height="3.8" fill="#111"/>
<text x="6.20" y="812.70" font-size="9.8" textLength="47.79" lengthAdjust="spacingAndGlyphs" fill="#000" stroke="#000" stroke-width="0.3"  xml:space="preserve">16 Dec 2021</text>
<rect x="64.66" y="801" width="1" height="3.8" fill="#111"/>
<text x="65.16" y="812.70" font-size="9.8" textLength="47.79" lengthAdjust="spacingAndGlyphs" fill="#000" stroke="#000" stroke-width="0.3"  xml:space="preserve">29 Dec 2021</text>
<rect x="123.63" y="801" width="1" height="3.8" fill="#111"/>
<text x="124.13" y="812.70" font-size="9.8" textLength="46.39" lengthAdjust="spacingAndGlyphs" fill="#000" stroke="#000" stroke-width="0.3"  xml:space="preserve">10 Jan 2022</text>
<rect x="182.59" y="801" width="1" height="3.8" fill="#111"/>
<text x="183.09" y="812.70" font-size="9.8" textLength="46.39" lengthAdjust="spacingAndGlyphs" fill="#000" stroke="#000" stroke-width="0.3"  xml:space="preserve">20 Jan 2022</text>
<rect x="241.55" y="801" width="1" height="3.8" fill="#111"/>
<text x="242.05" y="812.70" font-size="9.8" textLength="42.64" lengthAdjust="spacingAndGlyphs" fill="#000" stroke="#000" stroke-width="0.3"  xml:space="preserve">1 Feb 2022</text>
<rect x="300.52" y="801" width="1" height="3.8" fill="#111"/>
<text x="301.02" y="812.70" font-size="9.8" textLength="46.7" lengthAdjust="spacingAndGlyphs" fill="#000" stroke="#000" stroke-width="0.3"  xml:space="preserve">11 Feb 2022</text>
<rect x="359.48" y="801" width="1" height="3.8" fill="#111"/>
<text x="359.98" y="812.70" font-size="9.8" textLength="47.32" lengthAdjust="spacingAndGlyphs" fill="#000" stroke="#000" stroke-width="0.3"  xml:space="preserve">23 Feb 2022</text>
<rect x="418.44" y="801" width="1" height="3.8" fill="#111"/>
<text x="418.94" y="812.70" font-size="9.8" textLength="42.63" lengthAdjust="spacingAndGlyphs" fill="#000" stroke="#000" stroke-width="0.3"  xml:space="preserve">7 Mar 2022</text>
<rect x="477.41" y="801" width="1" height="3.8" fill="#111"/>
<text x="477.91" y="812.70" font-size="9.8" textLength="47.32" lengthAdjust="spacingAndGlyphs" fill="#000" stroke="#000" stroke-width="0.3"  xml:space="preserve">17 Mar 2022</text>
<rect x="536.37" y="801" width="1" height="3.8" fill="#111"/>
<text x="536.87" y="812.70" font-size="9.8" textLength="47.32" lengthAdjust="spacingAndGlyphs" fill="#000" stroke="#000" stroke-width="0.3"  xml:space="preserve">29 Mar 2022</text>
<rect x="595.33" y="801" width="1" height="3.8" fill="#111"/>
<text x="595.83" y="812.70" font-size="9.8" textLength="40.77" lengthAdjust="spacingAndGlyphs" fill="#000" stroke="#000" stroke-width="0.3"  xml:space="preserve">8 Apr 2022</text>
<rect x="654.3" y="801" width="1" height="3.8" fill="#111"/>
<text x="654.80" y="812.70" font-size="9.8" textLength="45.45" lengthAdjust="spacingAndGlyphs" fill="#000" stroke="#000" stroke-width="0.3"  xml:space="preserve">21 Apr 2022</text>
<rect x="713.26" y="801" width="1" height="3.8" fill="#111"/>
<text x="713.76" y="812.70" font-size="9.8" textLength="44.04" lengthAdjust="spacingAndGlyphs" fill="#000" stroke="#000" stroke-width="0.3"  xml:space="preserve">3 May 2022</text>
<rect x="772.22" y="801" width="1" height="3.8" fill="#111"/>
<text x="772.72" y="812.70" font-size="9.8" textLength="48.72" lengthAdjust="spacingAndGlyphs" fill="#000" stroke="#000" stroke-width="0.3"  xml:space="preserve">13 May 2022</text>
<rect x="831.18" y="801" width="1" height="3.8" fill="#111"/>
<text x="831.68" y="812.70" font-size="9.8" textLength="48.72" lengthAdjust="spacingAndGlyphs" fill="#000" stroke="#000" stroke-width="0.3"  xml:space="preserve">25 May 2022</text>
<rect x="890.15" y="801" width="1" height="3.8" fill="#111"/>
<text x="890.65" y="812.70" font-size="9.8" textLength="41.7" lengthAdjust="spacingAndGlyphs" fill="#000" stroke="#000" stroke-width="0.3"  xml:space="preserve">6 Jun 2022</text>
<rect x="949.11" y="801" width="1" height="3.8" fill="#111"/>
<text x="949.61" y="812.70" font-size="9.8" textLength="46.39" lengthAdjust="spacingAndGlyphs" fill="#000" stroke="#000" stroke-width="0.3"  xml:space="preserve">16 Jun 2022</text>
<rect x="1008.07" y="801" width="1" height="3.8" fill="#111"/>
<text x="1008.57" y="812.70" font-size="9.8" textLength="46.39" lengthAdjust="spacingAndGlyphs" fill="#000" stroke="#000" stroke-width="0.3"  xml:space="preserve">28 Jun 2022</text>
<rect x="1067.04" y="801" width="1" height="3.8" fill="#111"/>
<text x="1067.54" y="812.70" font-size="9.8" textLength="38.89" lengthAdjust="spacingAndGlyphs" fill="#000" stroke="#000" stroke-width="0.3"  xml:space="preserve">8 Jul 2022</text>
<rect x="1126" y="801" width="1" height="3.8" fill="#111"/>
<text x="1126.50" y="812.70" font-size="9.8" textLength="43.58" lengthAdjust="spacingAndGlyphs" fill="#000" stroke="#000" stroke-width="0.3"  xml:space="preserve">20 Jul 2022</text>
<text x="44.00" y="18.90" font-size="9.8" textLength="153.97" lengthAdjust="spacingAndGlyphs" fill="#000" stroke="#000" stroke-width="0.3"  xml:space="preserve">GAS, Daily:  Natural Gas vs  US Dollar</text>
<rect x="9.6" y="9.3" width="13" height="11.6" rx="1" fill="#f4f0fa" stroke="#5a5a6e" stroke-width="1.1"/>
<rect x="10" y="9.8" width="12.2" height="2" fill="#8a8ac4"/>
<rect x="10.5" y="12.2" width="5.5" height="8.2" fill="#f7d8e0"/>
<rect x="16.5" y="12.2" width="5" height="8.2" fill="#dcdcf7"/>
<rect x="11.6" y="13.4" width="4" height="0.9" fill="#e27c7c"/>
<rect x="17.2" y="13.4" width="3.6" height="0.9" fill="#6d6ddd"/>
<rect x="11.6" y="15.4" width="4" height="0.9" fill="#e27c7c"/>
<rect x="17.2" y="15.4" width="3.6" height="0.9" fill="#6d6ddd"/>
<rect x="11.6" y="17.4" width="4" height="0.9" fill="#e27c7c"/>
<rect x="17.2" y="17.4" width="3.6" height="0.9" fill="#6d6ddd"/>
<path d="M25.6,11 q0,-1 1,-1 h1.8 q1,0 1,1 v3.2 h1 q1,0 1,1 v4.3 q0,1 -1,1 h-3.8 q-1,0 -1,-1 z" fill="#3434d8"/>
<path d="M38.6,11 q0,-1 -1,-1 h-1.8 q-1,0 -1,1 v3.2 h-1 q-1,0 -1,1 v4.3 q0,1 1,1 h3.8 q1,0 1,-1 z" fill="#cc3b3b"/>
<rect x="30.3" y="10.3" width="3.6" height="0.9" fill="#555"/>
<rect x="30.3" y="12" width="3.6" height="0.9" fill="#555"/>
<rect x="927.5" y="652.4" width="5.6" height="1" fill="#6a6a6a"/>
<rect x="928.1" y="663.4" width="5" height="1.1" fill="#777"/>
<rect x="927.1" y="652.6" width="1.1" height="14.4" fill="#111"/>
<text x="930.7" y="661.7" font-size="9.2" text-anchor="middle" fill="#111">2</text>
<rect x="934.9" y="652.4" width="5.6" height="1" fill="#6a6a6a"/>
<rect x="935.5" y="663.4" width="5" height="1.1" fill="#777"/>
<rect x="934.5" y="652.6" width="1.1" height="14.4" fill="#111"/>
<text x="938.1" y="661.7" font-size="9.2" text-anchor="middle" fill="#111">1</text>
<rect x="943.1" y="653.2" width="4.6" height="10.2" fill="#f6e6ec"/>
<rect x="942.3" y="652.4" width="5.6" height="1" fill="#6a6a6a"/>
<rect x="942.9" y="663.4" width="5" height="1.1" fill="#777"/>
<rect x="941.9" y="652.6" width="1.1" height="14.4" fill="#111"/>
<text x="945.5" y="661.7" font-size="9.2" text-anchor="middle" fill="#4a0c24">2</text>
<rect x="949.6" y="652.4" width="5.6" height="1" fill="#6a6a6a"/>
<rect x="950.2" y="663.4" width="5" height="1.1" fill="#777"/>
<rect x="949.2" y="652.6" width="1.1" height="14.4" fill="#111"/>
<text x="952.8" y="661.7" font-size="9.2" text-anchor="middle" fill="#111">1</text>
<rect x="957" y="652.4" width="5.6" height="1" fill="#6a6a6a"/>
<rect x="957.6" y="663.4" width="5" height="1.1" fill="#777"/>
<rect x="956.6" y="652.6" width="1.1" height="14.4" fill="#111"/>
<text x="960.2" y="661.7" font-size="9.2" text-anchor="middle" fill="#111">0</text>
<rect x="964.4" y="652.4" width="5.6" height="1" fill="#6a6a6a"/>
<rect x="965" y="663.4" width="5" height="1.1" fill="#777"/>
<rect x="964" y="652.6" width="1.1" height="14.4" fill="#111"/>
<text x="967.6" y="661.7" font-size="9.2" text-anchor="middle" fill="#111">2</text>
<rect x="971.7" y="652.4" width="5.6" height="1" fill="#6a6a6a"/>
<rect x="972.3" y="663.4" width="5" height="1.1" fill="#777"/>
<rect x="971.3" y="652.6" width="1.1" height="14.4" fill="#111"/>
<text x="974.9" y="661.7" font-size="9.2" text-anchor="middle" fill="#111">1</text>
<rect x="979.9" y="653.2" width="4.6" height="10.2" fill="#f6e6ec"/>
<rect x="979.1" y="652.4" width="5.6" height="1" fill="#6a6a6a"/>
<rect x="979.7" y="663.4" width="5" height="1.1" fill="#777"/>
<rect x="978.7" y="652.6" width="1.1" height="14.4" fill="#111"/>
<text x="982.3" y="661.7" font-size="9.2" text-anchor="middle" fill="#4a0c24">1</text>
<rect x="986.5" y="652.4" width="5.6" height="1" fill="#6a6a6a"/>
<rect x="987.1" y="663.4" width="5" height="1.1" fill="#777"/>
<rect x="986.1" y="652.6" width="1.1" height="14.4" fill="#111"/>
<text x="989.7" y="661.7" font-size="9.2" text-anchor="middle" fill="#111">1</text>
<path d="M993.6,652.9 H1016.3 L1019.7,658.4 L1016.3,664.1 H993.6 Z" fill="#fff" stroke="#6a6a6a" stroke-width="1"/>
<rect x="993.2" y="652.6" width="1.1" height="14.4" fill="#111"/>
<text x="995.2" y="661.7" font-size="9.2" letter-spacing="-0.2" fill="#111">22:30</text>
<g transform="translate(1160,700) scale(0.066845)">
<polygon points="340,75 525,75 810,770 620,770" fill="#0b1654"/>
<polygon points="45,770 300,165 385,380 330,545 450,545 505,690 265,690 235,770" fill="url(#gA)"/>
</g>
<clipPath id="ctop"><rect x="1200" y="690" width="80" height="35.6"/></clipPath>
<clipPath id="cbot"><rect x="1200" y="731" width="80" height="30"/></clipPath>
<path d="M1259.2,713.67 A23.6,23.6 0 1 0 1259.2,742.73 L1249.9,735.46 A11.8,11.8 0 1 1 1249.9,720.94 Z" fill="url(#gC)" clip-path="url(#ctop)"/>
<path d="M1259.2,713.67 A23.6,23.6 0 1 0 1259.2,742.73 L1249.9,735.46 A11.8,11.8 0 1 1 1249.9,720.94 Z" fill="#0b1654" clip-path="url(#cbot)"/>
<polygon points="1265.6,705.2 1281.3,705.2 1297,728.2 1280.6,751.1 1265.6,751.1 1282.8,728.2" fill="#fff" stroke="#4d4d4d" stroke-width="1" stroke-linejoin="miter"/>
<linearGradient id="gY" x1="0" y1="1" x2="1" y2="0"><stop offset="0" stop-color="#1c54ad"/><stop offset="1" stop-color="#0a1245"/></linearGradient>
<polygon points="1300.3,705.2 1314.1,705.2 1300.3,724.2 1293.3,714.7" fill="url(#gY)"/>
<circle cx="1322.5" cy="700.1" r="3.2" fill="none" stroke="#555" stroke-width="0.6"/>
<text x="1322.5" y="702.2" font-size="5" text-anchor="middle" fill="#555">R</text>
<text x="1313" y="749.3" font-size="31" letter-spacing="5.5" fill="#4a4a4a" font-family="'Liberation Sans', 'Noto Sans CJK SC', sans-serif">证券</text>
<text x="1162" y="772.7" font-size="14.6" textLength="8.2" lengthAdjust="spacingAndGlyphs" fill="#505050">S</text>
<text x="1185.2" y="772.7" font-size="14.6" textLength="8.2" lengthAdjust="spacingAndGlyphs" fill="#505050">E</text>
<text x="1208.4" y="772.7" font-size="14.6" textLength="8.2" lengthAdjust="spacingAndGlyphs" fill="#505050">C</text>
<text x="1231.6" y="772.7" font-size="14.6" textLength="8.2" lengthAdjust="spacingAndGlyphs" fill="#505050">U</text>
<text x="1254.8" y="772.7" font-size="14.6" textLength="8.2" lengthAdjust="spacingAndGlyphs" fill="#505050">R</text>
<text x="1278" y="772.7" font-size="14.6" textLength="2.2" lengthAdjust="spacingAndGlyphs" fill="#505050">I</text>
<text x="1301.2" y="772.7" font-size="14.6" textLength="8.2" lengthAdjust="spacingAndGlyphs" fill="#505050">T</text>
<text x="1324.4" y="772.7" font-size="14.6" textLength="2.2" lengthAdjust="spacingAndGlyphs" fill="#505050">I</text>
<text x="1347.6" y="772.7" font-size="14.6" textLength="8.2" lengthAdjust="spacingAndGlyphs" fill="#505050">E</text>
<text x="1370.8" y="772.7" font-size="14.6" textLength="8.2" lengthAdjust="spacingAndGlyphs" fill="#505050">S</text>
<text transform="translate(0.9,0.9)" fill="#2a2a2a" font-family="'Liberation Sans', 'Noto Sans CJK SC', sans-serif"><tspan x="1228.6" y="784.6" font-size="31.3" textLength="86" lengthAdjust="spacingAndGlyphs">@ACY</tspan><tspan x="1315.3" y="783.4" font-size="29" font-weight="300">稀万证券</tspan></text>
<text transform="translate(0,0)" fill="#fff" font-family="'Liberation Sans', 'Noto Sans CJK SC', sans-serif"><tspan x="1228.6" y="784.6" font-size="31.3" textLength="86" lengthAdjust="spacingAndGlyphs">@ACY</tspan><tspan x="1315.3" y="783.4" font-size="29" font-weight="300">稀万证券</tspan></text>
<path d="M1199,764 C1205,761.5 1212,761 1215.2,762.1 C1217.5,765 1218.6,770 1218.6,776.4 C1218.4,780 1216,784 1213,785.6 L1199,787 Z" fill="#fff"/>
<path d="M1199.1,787.1 C1199.8,783 1200.2,780 1200.6,777.4" fill="none" stroke="#1a1a1a" stroke-width="0.9"/>
<path d="M1197.2,775.4 V773.3 H1201.6 C1201.8,770 1202.5,767.5 1205.4,765.5 C1207,764.9 1209,765 1210.8,765.2 M1209.3,765.7 V767.7 M1206.9,773.3 H1210.1" fill="none" stroke="#1a1a1a" stroke-width="0.9"/>
<path d="M1215.2,762.1 C1217.3,764.5 1218.3,767 1218.6,770 C1219,774 1218.8,778 1217.1,782.2 C1215.8,784 1214.5,785 1213.2,785.6 C1211.5,786.4 1209.5,786.7 1207.9,787.1 C1206.5,787.6 1205.3,789.5 1204.5,791" fill="none" stroke="#1a1a1a" stroke-width="0.9"/>
<path d="M1192.3,782.2 C1193,783.8 1195,785.6 1198.6,787.1" fill="none" stroke="#aaa" stroke-width="0.7"/>
</svg>
</body></html>
